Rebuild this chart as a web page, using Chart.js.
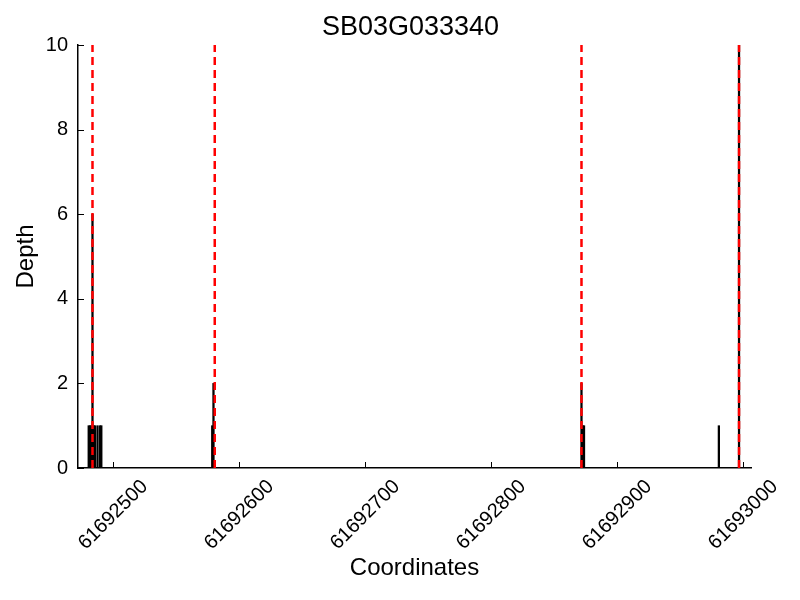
<!DOCTYPE html>
<html>
<head>
<meta charset="utf-8">
<script src="https://cdn.jsdelivr.net/npm/chart.js@4.4.0/dist/chart.umd.min.js"></script>
<style>
  body { margin: 0; background: #fff; }
</style>
</head>
<body>
<canvas id="depthChart" width="800" height="600"></canvas>
<script>
// read depths (coordinate -> depth)
var coords = [61692481, 61692482, 61692483, 61692484, 61692485, 61692486, 61692488, 61692490, 61692491,
              61692579, 61692580,
              61692872, 61692873, 61692874,
              61692981, 61692997];
var depths = [1, 1, 1, 6, 1, 1, 1, 1, 1,
              1, 2,
              2, 1, 1,
              1, 10];
// exon boundaries (red dashed)
var boundaries = [61692484, 61692581, 61692872, 61692997];
var xTicks = [61692500, 61692600, 61692700, 61692800, 61692900, 61693000];
var yTicks = [0, 2, 4, 6, 8, 10];
var chartTitle = 'SB03G033340';

var fontFamily = "'Liberation Sans', Arial, sans-serif";

var barData = [];
for (var i = 0; i < coords.length; i++) {
    barData.push({ x: coords[i], y: depths[i] });
}

var datasets = [{
    type: 'bar',
    data: barData,
    backgroundColor: '#000',
    barThickness: 1.6,
    order: 1
}];
boundaries.forEach(function(b) {
    datasets.push({
        type: 'line',
        data: [{ x: b, y: 0 }, { x: b, y: 10 }],
        borderColor: '#ff0000',
        borderWidth: 2.5,
        borderDash: [8, 5],
        pointRadius: 0,
        order: 0
    });
});

// ticks pointing into the plot + title centred over the axes
var decorations = {
    id: 'decorations',
    afterDraw: function(chart) {
        var ctx = chart.ctx;
        var xs = chart.scales.x, ys = chart.scales.y;
        var area = chart.chartArea;
        ctx.save();
        ctx.strokeStyle = '#000';
        ctx.lineWidth = 1;
        xTicks.forEach(function(v) {
            var px = Math.round(xs.getPixelForValue(v)) + 0.5;
            ctx.beginPath();
            ctx.moveTo(px, area.bottom);
            ctx.lineTo(px, area.bottom - 6);
            ctx.stroke();
        });
        yTicks.forEach(function(v) {
            var py = Math.round(ys.getPixelForValue(v)) + 0.5;
            ctx.beginPath();
            ctx.moveTo(area.left, py);
            ctx.lineTo(area.left + 6, py);
            ctx.stroke();
        });
        ctx.fillStyle = '#000';
        ctx.font = '27px ' + fontFamily;
        ctx.textAlign = 'center';
        ctx.textBaseline = 'middle';
        ctx.fillText(chartTitle, (area.left + area.right) / 2 - 4, 28);
        ctx.restore();
    }
};

var ctx = document.getElementById('depthChart').getContext('2d');
var chart = new Chart(ctx, {
    data: { datasets: datasets },
    options: {
        responsive: false,
        animation: false,
        layout: { padding: { left: 0, right: 49, top: 45, bottom: 0 } },
        plugins: {
            legend: { display: false },
            tooltip: { enabled: false },
            title: { display: false }
        },
        scales: {
            x: {
                type: 'linear',
                offset: false,
                min: 61692472.5,
                max: 61693006.5,
                afterFit: function(s) { s.height = 132; },
                afterBuildTicks: function(s) {
                    s.ticks = xTicks.map(function(v) { return { value: v }; });
                },
                grid: { display: false, drawTicks: false, offset: false },
                border: { display: true, color: '#000', width: 1.5 },
                ticks: {
                    color: '#000',
                    font: { family: fontFamily, size: 20 },
                    minRotation: 45,
                    maxRotation: 45,
                    labelOffset: 32,
                    padding: 7,
                    callback: function(v) { return String(v); }
                },
                title: {
                    display: true,
                    text: 'Coordinates',
                    color: '#000',
                    font: { family: fontFamily, size: 24 },
                    padding: { top: 0, bottom: 17 }
                }
            },
            y: {
                min: 0,
                max: 10,
                afterFit: function(s) { s.width = 78; },
                afterBuildTicks: function(s) {
                    s.ticks = yTicks.map(function(v) { return { value: v }; });
                },
                grid: { display: false, drawTicks: false },
                border: { display: true, color: '#000', width: 1.5 },
                ticks: {
                    color: '#000',
                    font: { family: fontFamily, size: 20 },
                    padding: 10
                },
                title: {
                    display: true,
                    text: 'Depth',
                    color: '#000',
                    font: { family: fontFamily, size: 24 },
                    padding: { top: 12, bottom: 12 }
                }
            }
        }
    },
    plugins: [decorations]
});
</script>
</body>
</html>
